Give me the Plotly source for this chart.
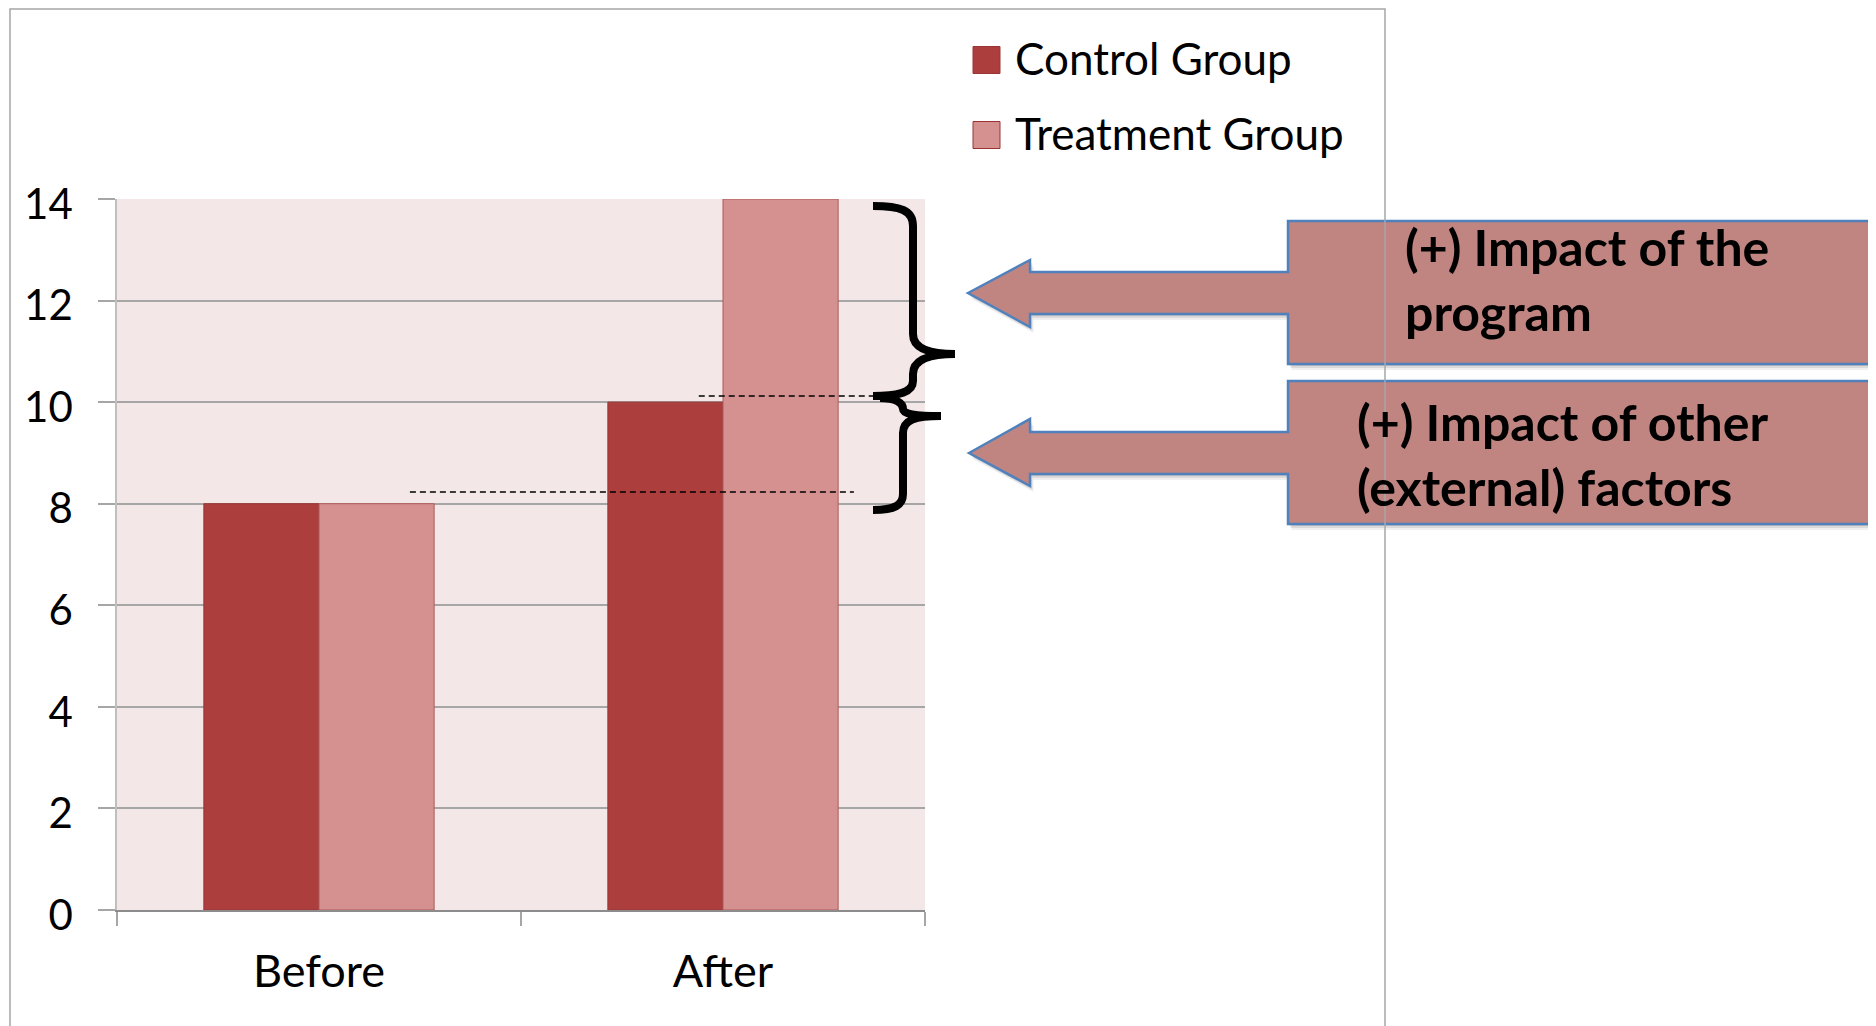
import plotly.graph_objects as go

# ---------------- data ----------------
categories = ["Before", "After"]
control_values = [8, 10]
treatment_values = [8, 14]
series_names = ["Control Group", "Treatment Group"]
series_colors = ["#AD3E3E", "#D49190"]
y_tick_values = [0, 2, 4, 6, 8, 10, 12, 14]
y_tick_labels = ["0", "2", "4", "6", "8", "10", "12", "14"]
callout_texts = ["(+) Impact of the<br>program", "(+) Impact of other<br>(external) factors"]
guide_levels = [8.23, 10.12]          # dashed reference levels
guide_spans = [(0.225, 1.324), (0.94, 1.384)]

# ---------------- layout helpers (pixel -> paper) ----------------
OFF = 8                      # page body margin
W, H = 1876 - OFF, 1026 - OFF
L, R, T, B = 117, 925, 199, 910   # plot area in screen pixels


def px(x):
    return (x - L) / (R - L)


def py(y):
    return (B - y) / (B - T)


def poly(points):
    return "M " + " L ".join(f"{px(x):.5f},{py(y):.5f}" for x, y in points) + " Z"


def curve(cmds):
    out = []
    for c in cmds:
        op, pts = c[0], c[1:]
        out.append(op + " " + " ".join(f"{px(x):.5f},{py(y):.5f}" for x, y in pts))
    return " ".join(out)


fig = go.Figure()
fig.add_trace(go.Bar(x=categories, y=control_values, name=series_names[0],
                     marker=dict(color=series_colors[0], line=dict(color="#9A3434", width=1)),
                     showlegend=False))
fig.add_trace(go.Bar(x=categories, y=treatment_values, name=series_names[1],
                     marker=dict(color=series_colors[1], line=dict(color="#B05A5A", width=1)),
                     showlegend=False))

shapes = []
font_family = "Lato"

# callout arrows (shadow + body)
arrow_polys = [
    [(968, 293), (1030, 260), (1030, 272), (1288, 272), (1288, 221), (1885, 221), (1885, 364),
     (1288, 364), (1288, 314), (1030, 314), (1030, 327)],
    [(969, 453), (1030, 419), (1030, 432), (1288, 432), (1288, 381), (1885, 381), (1885, 524),
     (1288, 524), (1288, 474), (1030, 474), (1030, 486)],
]
for pts in arrow_polys:
    for off, a in [(6, 0.06), (4, 0.09), (2, 0.10)]:
        shp = [(x + off * 0.6, y + off) for x, y in pts]
        shapes.append(dict(type="path", xref="paper", yref="paper", path=poly(shp),
                           fillcolor=f"rgba(0,0,0,{a})", line=dict(width=0), layer="above"))
    shapes.append(dict(type="path", xref="paper", yref="paper", path=poly(pts),
                       fillcolor="#C08581", line=dict(color="#4F81BD", width=2.5), layer="above"))

# outer frame
shapes.append(dict(type="path", xref="paper", yref="paper",
                   path=curve([("M", (10, 1040)), ("L", (10, 9)), ("L", (1385, 9)), ("L", (1385, 1040))]),
                   line=dict(color="#A6A6A6", width=1.5), layer="above"))

# dashed guide lines
for lvl, (x0, x1) in zip(guide_levels, guide_spans):
    shapes.append(dict(type="line", xref="x", yref="y", x0=x0, x1=x1, y0=lvl, y1=lvl,
                       line=dict(color="black", width=1.5, dash="6px,4px"), layer="above"))

# braces
brace_upper = curve([
    ("M", (873, 206)),
    ("C", (900, 206), (913, 210), (913, 226)),
    ("L", (913, 334)),
    ("C", (913, 347), (925, 354), (955, 354)),
    ("C", (925, 354), (913, 361), (913, 374)),
    ("L", (913, 381)),
    ("C", (913, 392), (900, 396), (873, 396)),
])
brace_lower = curve([
    ("M", (880, 398)),
    ("C", (896, 398), (903, 403), (903, 409)),
    ("C", (903, 414), (915, 416), (941, 416)),
    ("C", (915, 416), (903, 420), (903, 433)),
    ("L", (903, 494)),
    ("C", (903, 505), (895, 510), (873, 510)),
])
for p in (brace_upper, brace_lower):
    shapes.append(dict(type="path", xref="paper", yref="paper", path=p,
                       line=dict(color="black", width=8), layer="above"))

# legend squares
legend_y = [60, 135]
for c, yc in zip(series_colors, legend_y):
    shapes.append(dict(type="rect", xref="paper", yref="paper",
                       x0=px(973), x1=px(1000), y0=py(yc + 13.5), y1=py(yc - 13.5),
                       fillcolor=c, line=dict(color="#9A3434", width=1), layer="above"))

annotations = []
for name, yc in zip(series_names, legend_y):
    annotations.append(dict(xref="paper", yref="paper", x=px(1013), y=py(yc - 2), text=name,
                            showarrow=False, xanchor="left", yanchor="middle",
                            font=dict(family=font_family, size=44, color="black")))

callout_pos = [(1403, 279), (1355, 454)]
for txt, (x, y) in zip(callout_texts, callout_pos):
    annotations.append(dict(xref="paper", yref="paper", x=px(x), y=py(y), text="<b>" + txt + "</b>",
                            showarrow=False, xanchor="left", yanchor="middle", align="left",
                            font=dict(family=font_family, size=50, color="black")))

fig.update_layout(
    width=W, height=H,
    margin=dict(l=L - OFF, r=W - (R - OFF), t=T - OFF, b=H - (B - OFF), pad=0),
    paper_bgcolor="white",
    plot_bgcolor="#F3E7E7",
    barmode="group",
    bargap=0.43,
    bargroupgap=0,
    shapes=shapes,
    annotations=annotations,
    showlegend=False,
    font=dict(family=font_family, color="black"),
)
fig.update_xaxes(
    type="category", range=[-0.5, 1.5],
    showline=True, linecolor="#8C8C8C", linewidth=2,
    ticks="outside", tickson="boundaries", ticklen=14, tickcolor="#A6A6A6", tickwidth=1.5,
    tickfont=dict(family=font_family, size=45, color="black"),
    ticklabelstandoff=21,
    showgrid=False,
)
fig.update_yaxes(
    range=[0, 14], tickvals=y_tick_values, ticktext=y_tick_labels,
    showline=True, linecolor="#BFBFBF", linewidth=1.5,
    ticks="outside", ticklen=17, tickcolor="#A6A6A6", tickwidth=1.5,
    showgrid=True, gridcolor="#A6A6A6", gridwidth=1.5,
    zeroline=False,
    tickfont=dict(family=font_family, size=42, color="black"),
    ticklabelstandoff=17,
    ticklabelshift=5,
)

fig.write_html("out.html")
